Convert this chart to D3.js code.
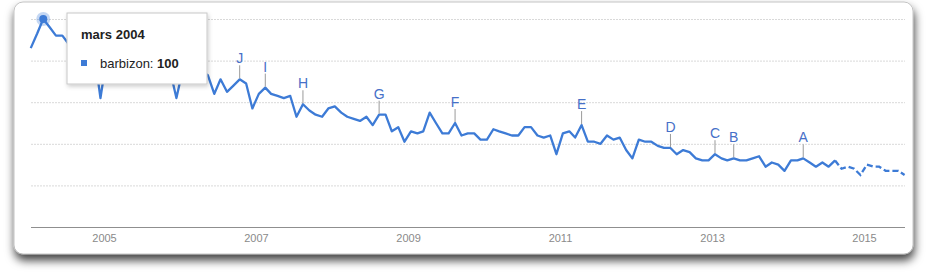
<!DOCTYPE html>
<html>
<head>
<script src="https://d3js.org/d3.v7.min.js"></script>
<style>
  body { margin: 0; background: #fff; }
  svg { display: block; font-family: "Liberation Sans", Arial, sans-serif; }
</style>
</head>
<body>
<svg id="chart" width="927" height="278"></svg>
<script>
// monthly interest for "barbizon", Jan 2004 .. Jul 2015
var startYear = 2004;
var values = [86, 93, 100, 96, 92, 92, 88, 85, 86, 83, 84, 62,
              82, 84, 80, 82, 79, 80, 77, 79, 76, 78, 75, 62,
              76, 74, 77, 75, 73, 64, 71, 65, 68, 71, 69, 57,
              64, 67, 64, 63, 62, 63, 53, 59, 56, 54, 53, 57,
              58, 55, 53, 52, 51, 53, 49, 54, 54, 46, 48, 41,
              46, 45, 46, 55, 50, 45, 45, 50, 44, 45, 45, 42,
              42, 47, 46, 45, 44, 44, 48, 48, 44, 43, 44, 35,
              45, 46, 43, 49, 41, 41, 40, 44, 42, 43, 37, 33,
              42, 41, 41, 39, 38, 38, 35, 37, 36, 33, 32, 32,
              35, 33, 32, 33, 32, 32, 33, 34, 29, 31, 30, 27,
              32, 32, 33, 31, 29, 31, 29, 32, 28, 29, 28, 25,
              30, 29, 29, 27, 27, 27, 25];
var forecastFrom = 127;   // dashed part starts here
var eventLetters = ["J", "I", "H", "G", "F", "E", "D", "C", "B", "A"];
var eventMonths  = [33, 37, 43, 55, 67, 87, 101, 108, 111, 122];
var yTicks = [0, 20, 40, 60, 80, 100];
var xTickYears = [2005, 2007, 2009, 2011, 2013, 2015];
var tipTitle = "mars 2004";
var tipSeries = "barbizon";
var tipIndex = 2;

var data = values.map(function(v, i) {
  return { date: new Date(Date.UTC(startYear, i, 15)), value: v };
});

var svg = d3.select("#chart");
var defs = svg.append("defs");
var sh = defs.append("filter").attr("id", "cardShadow")
  .attr("x", "-10%").attr("y", "-10%").attr("width", "120%").attr("height", "130%");
sh.append("feDropShadow").attr("dx", 1).attr("dy", 6).attr("stdDeviation", 5)
  .attr("flood-color", "#000").attr("flood-opacity", 0.75);
var tsh = defs.append("filter").attr("id", "tipShadow")
  .attr("x", "-10%").attr("y", "-10%").attr("width", "130%").attr("height", "140%");
tsh.append("feDropShadow").attr("dx", 1).attr("dy", 2).attr("stdDeviation", 2)
  .attr("flood-color", "#000").attr("flood-opacity", 0.2);

// card
svg.append("rect")
  .attr("x", 14).attr("y", 2).attr("width", 899).attr("height", 252)
  .attr("rx", 9)
  .attr("fill", "#fff").attr("stroke", "#b5b5b5").attr("stroke-width", 0.8)
  .attr("filter", "url(#cardShadow)");

var x = d3.scaleUtc()
  .domain([new Date(Date.UTC(2005, 0, 1)), new Date(Date.UTC(2015, 0, 1))])
  .range([104, 864]);
var y = d3.scaleLinear().domain([0, 100]).range([227, 19]);
var left = 31, right = 905;

// gridlines
svg.append("g").selectAll("line").data(yTicks.filter(function(d) { return d > 0; }))
  .join("line")
  .attr("x1", left).attr("x2", right)
  .attr("y1", function(d) { return y(d) + 0.5; })
  .attr("y2", function(d) { return y(d) + 0.5; })
  .attr("stroke", "#d9d9d9").attr("stroke-dasharray", "2,1");

// x axis
var xAxis = d3.axisBottom(x)
  .tickValues(xTickYears.map(function(yr) { return new Date(Date.UTC(yr, 0, 1)); }))
  .tickFormat(d3.utcFormat("%Y"))
  .tickSize(0).tickPadding(7);
var gx = svg.append("g").attr("transform", "translate(0," + (y(0) + 0.5) + ")").call(xAxis);
gx.select(".domain").remove();
gx.selectAll("text").attr("fill", "#8a8a8a").style("font-size", "11px")
  .style("font-family", "'Liberation Sans', Arial, sans-serif");
gx.append("line").attr("x1", left).attr("x2", right)
  .attr("stroke", "#8f8f8f").attr("stroke-width", 1);

// line
var line = d3.line()
  .x(function(d) { return x(d.date); })
  .y(function(d) { return y(d.value); });

svg.append("path").datum(data.slice(0, forecastFrom + 1))
  .attr("d", line)
  .attr("fill", "none").attr("stroke", "#3d7bd6").attr("stroke-width", 2.3)
  .attr("stroke-linejoin", "round");
svg.append("path").datum(data.slice(forecastFrom))
  .attr("d", line)
  .attr("fill", "none").attr("stroke", "#3d7bd6").attr("stroke-width", 2.3)
  .attr("stroke-dasharray", "6,3");

// event markers
var ev = svg.append("g").selectAll("g").data(eventLetters).join("g")
  .attr("transform", function(d, i) {
    var p = data[eventMonths[i]];
    return "translate(" + x(p.date) + "," + y(p.value) + ")";
  });
ev.append("line").attr("x1", 0).attr("x2", 0).attr("y1", -1).attr("y2", -14)
  .attr("stroke", "#9a9a9a").attr("stroke-width", 1);
ev.append("text").attr("y", -16).attr("text-anchor", "middle")
  .attr("fill", "#4670c8").style("font-size", "14px")
  .text(function(d) { return d; });

// highlighted point
var hp = data[tipIndex];
svg.append("circle").attr("cx", x(hp.date)).attr("cy", y(hp.value)).attr("r", 7)
  .attr("fill", "#3d7bd6").attr("opacity", 0.3);
svg.append("circle").attr("cx", x(hp.date)).attr("cy", y(hp.value)).attr("r", 4)
  .attr("fill", "#3d7bd6");

// tooltip
var tip = svg.append("g").attr("transform", "translate(67,13)");
tip.append("rect").attr("width", 140).attr("height", 71)
  .attr("fill", "#fff").attr("stroke", "#c8c8c8").attr("stroke-width", 1)
  .attr("filter", "url(#tipShadow)");
tip.append("text").attr("x", 14).attr("y", 26)
  .attr("fill", "#222").style("font-size", "13px").style("font-weight", "bold")
  .text(tipTitle);
tip.append("rect").attr("x", 14).attr("y", 47).attr("width", 6).attr("height", 6)
  .attr("fill", "#3d7bd6");
var t2 = tip.append("text").attr("x", 33).attr("y", 55)
  .attr("fill", "#222").style("font-size", "13px");
t2.append("tspan").text(tipSeries + ": ");
t2.append("tspan").style("font-weight", "bold").text(hp.value);
</script>
</body>
</html>
